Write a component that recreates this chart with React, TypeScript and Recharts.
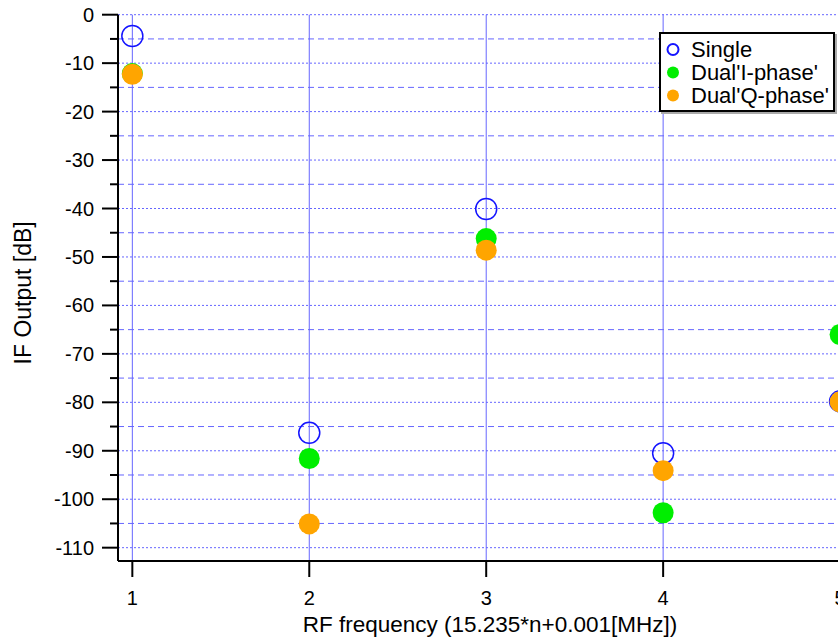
import { ScatterChart, Scatter, XAxis, YAxis, CartesianGrid, ReferenceLine, Legend } from "recharts"

// n index on the x axis
const rfIndex = [1, 2, 3, 4, 5]
// IF output [dB] per series
const singleDb = [-4.4, -86.3, -40.1, -90.5, -79.8]
const dualIDb = [-12.15, -91.6, -46.2, -102.8, -66.0]
const dualQDb = [-12.3, -105.1, -48.6, -94.1, -79.9]

const majorTicks = [0, -10, -20, -30, -40, -50, -60, -70, -80, -90, -100, -110]
const minorTicks = [-5, -15, -25, -35, -45, -55, -65, -75, -85, -95, -105]

const seriesNames = ["Single", "Dual'I-phase'", "Dual'Q-phase'"]
const seriesColors = ["#1414ff", "#00ee00", "#ffa500"]

const FONT = "Arial, 'Liberation Sans', sans-serif"
const GRID = "#6666ff"

const toPoints = (ys: number[]) => rfIndex.map((x, i) => ({ x, y: ys[i] }))

const OpenCircle = (props: any) => (
    <circle cx={props.cx} cy={props.cy} r={10.5} fill="none" stroke={seriesColors[0]} strokeWidth={1.5} />
)
const dot = (color: string) => (props: any) => (
    <circle cx={props.cx} cy={props.cy} r={10.5} fill={color} />
)

const YTick = ({ x, y, payload }: any) => {
    const major = payload.value % 10 === 0
    return (
        <g>
            <line x1={x - (major ? 16 : 8)} x2={x} y1={y} y2={y} stroke="#000" strokeWidth={2} />
            {major && (
                <text x={x - 24} y={y} dy="0.35em" textAnchor="end" fontSize={20} fill="#000">
                    {payload.value}
                </text>
            )}
        </g>
    )
}

const XTick = ({ x, y, payload }: any) => (
    <g>
        <line x1={x} x2={x} y1={y} y2={y + 16} stroke="#000" strokeWidth={2} />
        <text x={x} y={y + 37} dy="0.35em" textAnchor="middle" fontSize={20} fill="#000">
            {payload.value}
        </text>
    </g>
)

const XTitle = (props: any) => {
    const vb = props.viewBox
    return (
        <text x={vb.x + vb.width / 2 + 3} y={vb.y + 63} dy="0.35em" textAnchor="middle" fontSize={22.5} fill="#000">
            RF frequency (15.235*n+0.001[MHz])
        </text>
    )
}

const YTitle = (props: any) => {
    const vb = props.viewBox
    const cx = vb.x + 23
    const cy = vb.y + vb.height / 2 + 5
    return (
        <text x={cx} y={cy} dy="0.35em" textAnchor="middle" fontSize={23} fill="#000" transform={`rotate(-90, ${cx}, ${cy})`}>
            IF Output [dB]
        </text>
    )
}

const LegendBox = () => (
    <div
        style={{
            width: 176,
            height: 80,
            boxSizing: "border-box",
            border: "2px solid #000",
            background: "#fff",
            boxShadow: "2px 2px 0 #aaa",
            paddingTop: 4,
            fontFamily: FONT,
            fontSize: 22,
            color: "#000",
        }}
    >
        {seriesNames.map((name, i) => (
            <div key={name} style={{ height: 23, lineHeight: "23px", display: "flex", alignItems: "center" }}>
                <svg width={30} height={23} style={{ flex: "none" }}>
                    {i === 0 ? (
                        <circle cx={12} cy={11.5} r={5.5} fill="none" stroke={seriesColors[0]} strokeWidth={2} />
                    ) : (
                        <circle cx={12} cy={11.5} r={6} fill={seriesColors[i]} />
                    )}
                </svg>
                <span style={{ whiteSpace: "nowrap" }}>{name}</span>
            </div>
        ))}
    </div>
)

export default function App() {
    return (
        <div style={{ position: "absolute", left: 0, top: 0, width: 838, height: 637, overflow: "hidden", background: "#fff" }}>
            <ScatterChart
                width={858}
                height={637}
                margin={{ top: 14.7, right: 2, bottom: 0, left: 0 }}
                style={{ fontFamily: FONT }}
            >
                <CartesianGrid horizontal={false} vertical={true} stroke={GRID} strokeWidth={1} />
                <XAxis
                    type="number"
                    dataKey="x"
                    domain={[0.919, 5.09]}
                    allowDataOverflow
                    ticks={rfIndex}
                    interval={0}
                    height={76}
                    tickSize={0}
                    tickMargin={0}
                    tick={<XTick />}
                    tickLine={false}
                    axisLine={{ stroke: "#000", strokeWidth: 2 }}
                    label={XTitle}
                />
                <YAxis
                    type="number"
                    dataKey="y"
                    domain={[-112.75, 0]}
                    allowDataOverflow
                    ticks={[...majorTicks, ...minorTicks].sort((a, b) => b - a)}
                    interval={0}
                    width={118}
                    tickSize={0}
                    tickMargin={0}
                    tick={<YTick />}
                    tickLine={false}
                    axisLine={{ stroke: "#000", strokeWidth: 2 }}
                    label={YTitle}
                />
                {majorTicks.map((v) => (
                    <ReferenceLine key={"M" + v} y={v} stroke={GRID} strokeDasharray="2 2" strokeWidth={1} />
                ))}
                {minorTicks.map((v) => (
                    <ReferenceLine key={"m" + v} y={v} stroke={GRID} strokeDasharray="6 4" strokeWidth={1} />
                ))}
                <Scatter name={seriesNames[0]} data={toPoints(singleDb)} shape={OpenCircle} isAnimationActive={false} />
                <Scatter name={seriesNames[1]} data={toPoints(dualIDb)} shape={dot(seriesColors[1])} isAnimationActive={false} />
                <Scatter name={seriesNames[2]} data={toPoints(dualQDb)} shape={dot(seriesColors[2])} isAnimationActive={false} />
                <Legend
                    layout="vertical"
                    align="center"
                    verticalAlign="middle"
                    content={LegendBox}
                    wrapperStyle={{ left: 659, top: 32, width: 176, height: 80 }}
                />
            </ScatterChart>
        </div>
    )
}
